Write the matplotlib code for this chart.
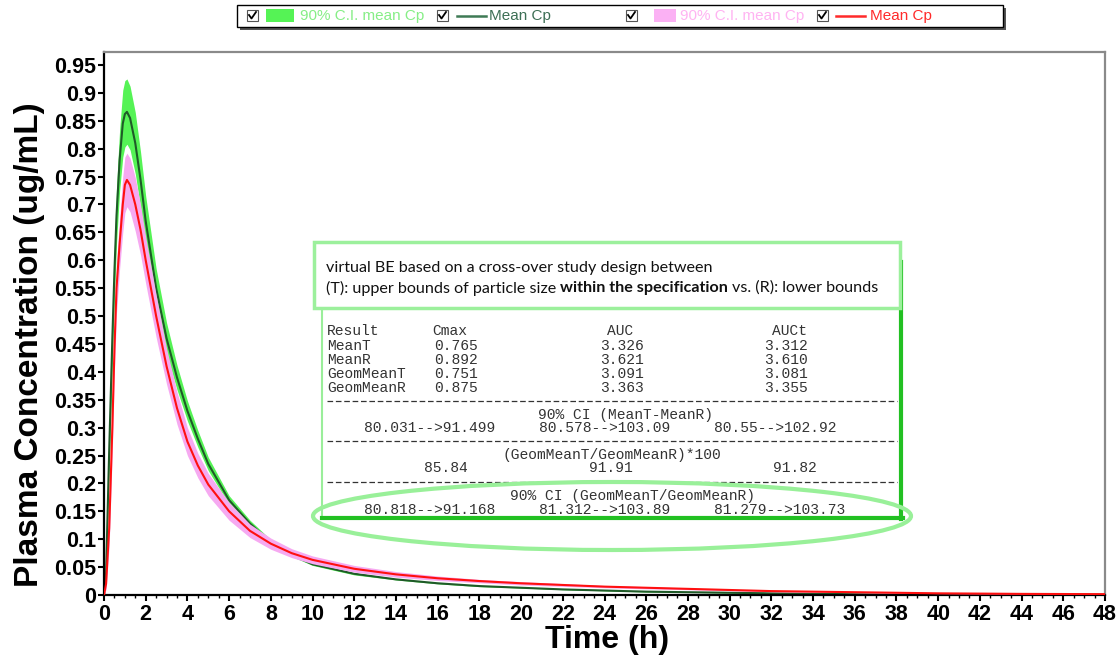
import matplotlib
matplotlib.use("Agg")
import matplotlib.pyplot as plt
from matplotlib.patches import Rectangle, Ellipse
from matplotlib.lines import Line2D
import numpy as np

# ---------------- data ----------------
time_h = [0, 0.1, 0.25, 0.4, 0.5, 0.6, 0.75, 0.9, 1.0, 1.1,
          1.25, 1.5, 1.75, 2.0, 2.5, 3.0, 3.5, 4.0, 4.5, 5.0,
          6, 7, 8, 9, 10, 12, 14, 16, 18, 20,
          22, 24, 26, 28, 30, 32, 34, 36, 38, 40,
          44, 48]

green_mean = [0, 0.04, 0.26, 0.46, 0.58, 0.68, 0.78, 0.845, 0.862, 0.866,
              0.855, 0.81, 0.745, 0.67, 0.55, 0.46, 0.39, 0.33, 0.28, 0.235,
              0.17, 0.128, 0.095, 0.072, 0.055, 0.038, 0.028, 0.021, 0.016, 0.013,
              0.010, 0.008, 0.006, 0.005, 0.004, 0.003, 0.002, 0.0015, 0.001, 0.001,
              0.0005, 0.0003]
green_hi = [0, 0.05, 0.29, 0.50, 0.625, 0.73, 0.835, 0.905, 0.922, 0.925,
            0.912, 0.865, 0.795, 0.715, 0.585, 0.488, 0.412, 0.348, 0.295, 0.247,
            0.178, 0.134, 0.099, 0.075, 0.057, 0.040, 0.029, 0.022, 0.017, 0.0135,
            0.0105, 0.0085, 0.0065, 0.0053, 0.0043, 0.0033, 0.0023, 0.0017, 0.0012, 0.0011,
            0.0006, 0.0004]
green_lo = [0, 0.03, 0.23, 0.42, 0.535, 0.63, 0.725, 0.785, 0.803, 0.808,
            0.798, 0.755, 0.695, 0.625, 0.515, 0.432, 0.368, 0.312, 0.265, 0.223,
            0.162, 0.122, 0.091, 0.069, 0.053, 0.036, 0.027, 0.020, 0.015, 0.0125,
            0.0095, 0.0075, 0.0055, 0.0047, 0.0037, 0.0027, 0.0017, 0.0013, 0.0008, 0.0009,
            0.0004, 0.0002]

red_mean = [0, 0.02, 0.12, 0.30, 0.44, 0.55, 0.63, 0.70, 0.735, 0.744,
            0.735, 0.70, 0.655, 0.60, 0.50, 0.41, 0.335, 0.275, 0.232, 0.198,
            0.150, 0.115, 0.092, 0.075, 0.063, 0.047, 0.037, 0.030, 0.025, 0.021,
            0.018, 0.015, 0.013, 0.011, 0.009, 0.007, 0.006, 0.005, 0.004, 0.003,
            0.002, 0.0015]
pink_hi = [0, 0.03, 0.15, 0.34, 0.48, 0.595, 0.675, 0.75, 0.785, 0.792,
           0.783, 0.748, 0.70, 0.642, 0.538, 0.442, 0.364, 0.300, 0.254, 0.218,
           0.166, 0.127, 0.102, 0.083, 0.070, 0.053, 0.042, 0.034, 0.028, 0.024,
           0.0205, 0.017, 0.015, 0.0125, 0.0103, 0.0081, 0.007, 0.0058, 0.0047, 0.0035,
           0.0024, 0.0018]
pink_lo = [0, 0.01, 0.09, 0.26, 0.40, 0.505, 0.585, 0.65, 0.685, 0.696,
           0.687, 0.652, 0.61, 0.558, 0.462, 0.378, 0.306, 0.250, 0.21, 0.178,
           0.134, 0.103, 0.082, 0.067, 0.056, 0.041, 0.032, 0.026, 0.022, 0.018,
           0.0155, 0.013, 0.011, 0.0095, 0.0077, 0.0059, 0.005, 0.0042, 0.0033, 0.0025,
           0.0016, 0.0012]

x_ticks = list(range(0, 49, 2))
y_ticks = [0, 0.05, 0.1, 0.15, 0.2, 0.25, 0.3, 0.35, 0.4, 0.45,
           0.5, 0.55, 0.6, 0.65, 0.7, 0.75, 0.8, 0.85, 0.9, 0.95]
y_tick_labels = ['0', '0.05', '0.1', '0.15', '0.2', '0.25', '0.3', '0.35', '0.4', '0.45',
                 '0.5', '0.55', '0.6', '0.65', '0.7', '0.75', '0.8', '0.85', '0.9', '0.95']

legend_labels = ['90% C.I. mean Cp', 'Mean Cp', '90% C.I. mean Cp', 'Mean Cp']

note_line1 = 'virtual BE based on a cross-over study design between'
note_line2 = ['(T): upper bounds of particle size', 'within the specification', 'vs. (R): lower bounds']

table_header = ['Result', 'Cmax', 'AUC', 'AUCt']
table_rows = [['MeanT', '0.765', '3.326', '3.312'],
              ['MeanR', '0.892', '3.621', '3.610'],
              ['GeomMeanT', '0.751', '3.091', '3.081'],
              ['GeomMeanR', '0.875', '3.363', '3.355']]
ci_title = '90% CI (MeanT-MeanR)'
ci_values = ['80.031-->91.499', '80.578-->103.09', '80.55-->102.92']
ratio_title = '(GeomMeanT/GeomMeanR)*100'
ratio_values = ['85.84', '91.91', '91.82']
gci_title = '90% CI (GeomMeanT/GeomMeanR)'
gci_values = ['80.818-->91.168', '81.312-->103.89', '81.279-->103.73']

# ---------------- figure ----------------
plt.rcParams['font.family'] = ['Liberation Sans', 'DejaVu Sans']
W, H = 1120, 658
fig = plt.figure(figsize=(W / 100, H / 100), dpi=100)
fig.patch.set_facecolor('white')

x0, x1, ytop, ybot = 104, 1105, 52, 595
ax = fig.add_axes([x0 / W, (H - ybot) / H, (x1 - x0) / W, (ybot - ytop) / H])
ax.set_xlim(0, 48)
ax.set_ylim(0, 0.95 * (ybot - ytop) / (ybot - 65))

GREEN_FILL = '#55f355'
PINK_FILL = '#f6a9f1'
ax.fill_between(time_h, green_lo, green_hi, color=GREEN_FILL, lw=0, zorder=1)
ax.plot(time_h, green_mean, color='#1f5a28', lw=1.5, zorder=2)
ax.fill_between(time_h, pink_lo, pink_hi, color=PINK_FILL, lw=0, zorder=3)
ax.plot(time_h, red_mean, color='#ff1010', lw=1.5, zorder=4)

ax.set_xticks(x_ticks)
ax.set_xticklabels([str(v) for v in x_ticks])
ax.set_xticks(np.arange(0, 48.01, 0.5), minor=True)
ax.set_yticks(y_ticks)
ax.set_yticklabels(y_tick_labels)
ax.tick_params(axis='both', which='major', length=4, width=1.5, labelsize=15.5, direction='out')
ax.tick_params(axis='y', pad=1.5)
ax.tick_params(axis='x', pad=2.5)
ax.tick_params(axis='x', which='minor', length=2, width=1)
for lab in ax.get_xticklabels() + ax.get_yticklabels():
    lab.set_fontweight('bold')

for s in ['left', 'bottom']:
    ax.spines[s].set_color('black')
    ax.spines[s].set_linewidth(1.6)
for s in ['top', 'right']:
    ax.spines[s].set_color('#8a8a8a')
    ax.spines[s].set_linewidth(1.6)

ax.text((607 - x0) / (x1 - x0), (ybot - 640) / (ybot - ytop), 'Time (h)', transform=ax.transAxes,
        ha='center', va='center', fontsize=23, fontweight='bold')
ax.text((30 - x0) / (x1 - x0), (ybot - 345) / (ybot - ytop), 'Plasma Concentration (ug/mL)',
        transform=ax.transAxes, ha='center', va='center', rotation=90, fontsize=24, fontweight='bold')

# ---------------- overlay in pixel coordinates ----------------
ov = fig.add_axes([0, 0, 1, 1], zorder=10)
ov.set_xlim(0, W)
ov.set_ylim(H, 0)
ov.axis('off')
ov.patch.set_alpha(0)

# legend box
ov.add_patch(Rectangle((240, 8), 766, 22, facecolor='#555555', edgecolor='none', zorder=1))
ov.add_patch(Rectangle((237, 5), 766, 22, facecolor='white', edgecolor='black', lw=1, zorder=2))


def checkbox(x):
    ov.add_patch(Rectangle((x, 10), 11, 11, facecolor='white', edgecolor='#555555', lw=0.8, zorder=3))
    ov.add_line(Line2D([x + 2, x + 4.5, x + 9], [15, 18.5, 12], color='black', lw=1.3, zorder=4))


ly = 16
checkbox(247)
ov.add_patch(Rectangle((266, 9), 28, 13, facecolor=GREEN_FILL, edgecolor='none', zorder=3))
ov.text(300, ly, legend_labels[0], color='#86ee86', fontsize=11, va='center', zorder=3)
checkbox(437)
ov.add_line(Line2D([457, 486], [ly, ly], color='#3f7a55', lw=1.8, zorder=3))
ov.text(489, ly, legend_labels[1], color='#3d6f55', fontsize=11, va='center', zorder=3)
checkbox(626)
ov.add_patch(Rectangle((654, 9), 22, 13, facecolor='#fbb1f4', edgecolor='none', zorder=3))
ov.text(680, ly, legend_labels[2], color='#ffb4f2', fontsize=11, va='center', zorder=3)
checkbox(817)
ov.add_line(Line2D([836, 865], [ly, ly], color='#ff2a2a', lw=1.8, zorder=3))
ov.text(870, ly, legend_labels[3], color='#ff2a2a', fontsize=11, va='center', zorder=3)

# table panel
ov.add_patch(Rectangle((322, 262), 580, 256, facecolor='white', edgecolor='none', zorder=1))
ov.add_line(Line2D([322, 322], [262, 518], color='#9aee9a', lw=1.5, zorder=2))
ov.add_line(Line2D([901, 901], [262, 519], color='#22c022', lw=3, zorder=2))
ov.add_line(Line2D([322, 902.5], [518, 518], color='#22c022', lw=3, zorder=2))

mono = dict(family='Liberation Mono', fontsize=10.5, color='#333333', va='center', zorder=3)
ov.text(327, 331, table_header[0], **mono)
ov.text(432, 331, table_header[1], **mono)
ov.text(607, 331, table_header[2], **mono)
ov.text(772, 331, table_header[3], **mono)
row_y = [346, 360, 374, 388]
for yy, row in zip(row_y, table_rows):
    ov.text(327, yy, row[0], **mono)
    ov.text(434, yy, row[1], **mono)
    ov.text(600, yy, row[2], **mono)
    ov.text(764, yy, row[3], **mono)
for yy in [401, 441, 482]:
    ov.add_line(Line2D([327, 897], [yy, yy], color='#333333', lw=0.9,
                       dashes=(4.5, 2.2), zorder=3))
ov.text(626, 415, ci_title, ha='center', **mono)
for xx, s in zip([364, 539, 714], ci_values):
    ov.text(xx, 428, s, **mono)
ov.text(612, 455, ratio_title, ha='center', **mono)
for xx, s in zip([424, 589, 773], ratio_values):
    ov.text(xx, 468, s, **mono)
ov.text(633, 496, gci_title, ha='center', **mono)
for xx, s in zip([364, 539, 714], gci_values):
    ov.text(xx, 510, s, **mono)

# note box
ov.add_patch(Rectangle((314, 242), 586, 66, facecolor='white', edgecolor='#9cf09c', lw=2.5, zorder=5))
fig.canvas.draw()
renderer = fig.canvas.get_renderer()


def width_px(s, **kw):
    t = ov.text(0, 0, s, **kw)
    w = t.get_window_extent(renderer).width
    t.remove()
    return w


base = dict(family='Lato', fontsize=10)
sp = width_px('a a', **base) - width_px('aa', **base)
w_total = (width_px(note_line2[0], **base) + width_px(note_line2[1], fontweight='bold', **base)
           + width_px(note_line2[2], **base) + 2 * sp)
fs = 10 * 556 / w_total
note = dict(family='Lato', fontsize=fs, color='#111111', va='center', zorder=6)
ov.text(326, 268, note_line1, **note)
xx = 326
ov.text(xx, 288, note_line2[0], **note)
sp2 = width_px('a a', family='Lato', fontsize=fs) - width_px('aa', family='Lato', fontsize=fs)
xx += width_px(note_line2[0], family='Lato', fontsize=fs) + sp2
ov.text(xx, 288, note_line2[1], fontweight='bold', **note)
xx += width_px(note_line2[1], family='Lato', fontsize=fs, fontweight='bold') + sp2
ov.text(xx, 288, note_line2[2], **note)

# highlight ellipse
ov.add_patch(Ellipse((612, 516), 598, 68, fill=False, edgecolor='#99f099', lw=3, zorder=7))

fig.savefig('out.png', dpi=100)
